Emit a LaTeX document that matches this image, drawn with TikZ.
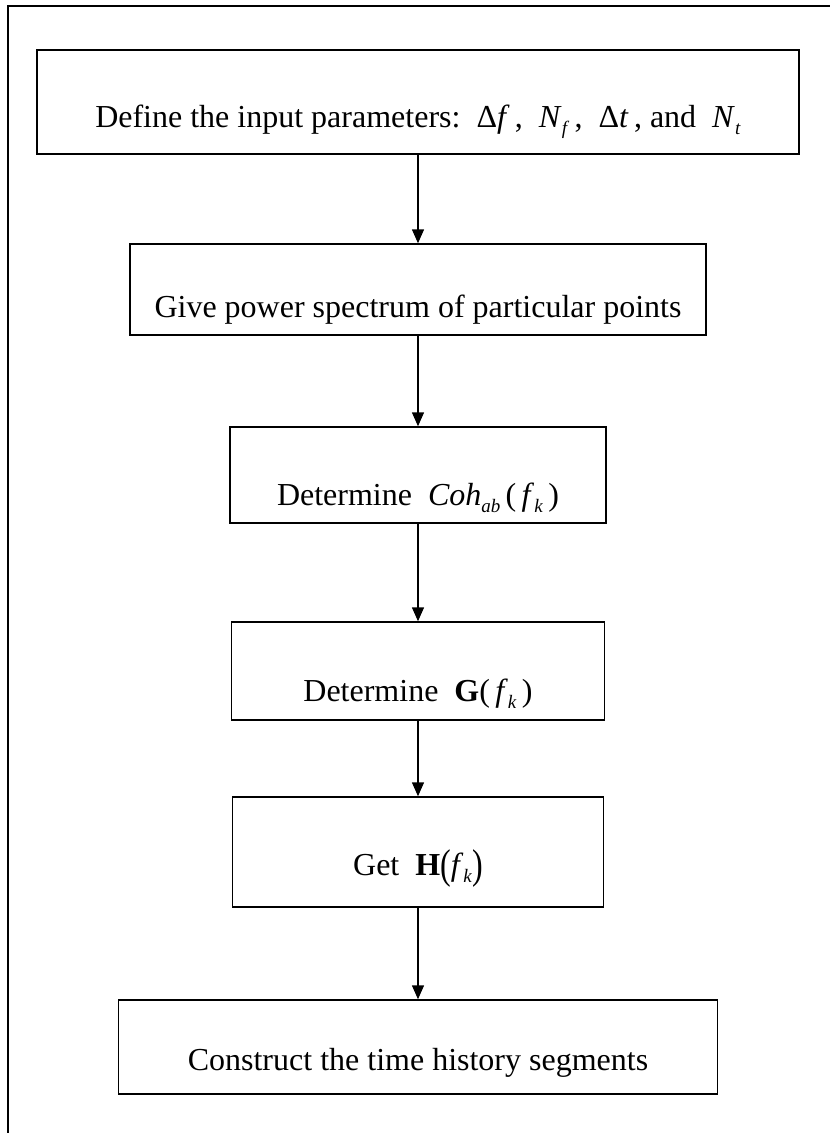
\documentclass[tikz,border=0pt]{standalone}
\usepackage{fontspec}
\usepackage{graphicx}
\setmainfont{Liberation Serif}
\usetikzlibrary{arrows.meta}

\newcommand{\lowsub}[1]{\raisebox{-0.22em}{\fontsize{19}{19}\selectfont\textit{#1}}}
\newcommand{\tallparen}[1]{\raisebox{-0.12em}{\scalebox{1}[1.3]{#1}}}

\tikzset{stepbox/.style={draw, line width=1.5pt, inner sep=0pt, align=center,
  font=\fontsize{32}{38}\selectfont}}

\begin{document}
\begin{tikzpicture}[x=1pt, y=-1pt]
\useasboundingbox (0,0) rectangle (830,1133);
% outer frame
\draw[black, line width=2pt] (8,1133) -- (8,6) -- (830,6);

\node[stepbox, minimum width=762pt, text height=77pt, text depth=27pt] (define) at (418,102)
 {Define the input parameters:\ \ Δ\textit{f}\,,\ \ \textit{N}\lowsub{f}\,,\ \ Δ\textit{t}\,, and\ \ \textit{N}\lowsub{t}};
\node[stepbox, minimum width=576pt, text height=73pt, text depth=18pt] (spectrum) at (418,289.5)
 {Give power spectrum of particular points};
\node[stepbox, minimum width=376pt, text height=78pt, text depth=18pt] (coh) at (418,475)
 {Determine\ \ \textit{Coh}\lowsub{ab}\,(\,\textit{f}\lowsub{k}\,)};
\node[stepbox, minimum width=373pt, text height=79pt, text depth=19pt] (gmat) at (418,671)
 {Determine\ \ \textbf{G}(\,\textit{f}\lowsub{k}\,)};
\node[stepbox, minimum width=371pt, text height=78pt, text depth=32pt] (hmat) at (418,852)
 {Get\ \ \textbf{H}\tallparen{(}\textit{f}\lowsub{k}\tallparen{)}};
\node[stepbox, minimum width=599pt, text height=70pt, text depth=24pt] (segments) at (418,1047)
 {Construct the time history segments};

\foreach \a/\b in {define/spectrum, spectrum/coh, coh/gmat, gmat/hmat, hmat/segments} {
 \draw[black, line width=1.5pt, ->, >={Triangle[length=14pt, width=12pt]}] (\a) -- (\b);
}
\end{tikzpicture}
\end{document}
